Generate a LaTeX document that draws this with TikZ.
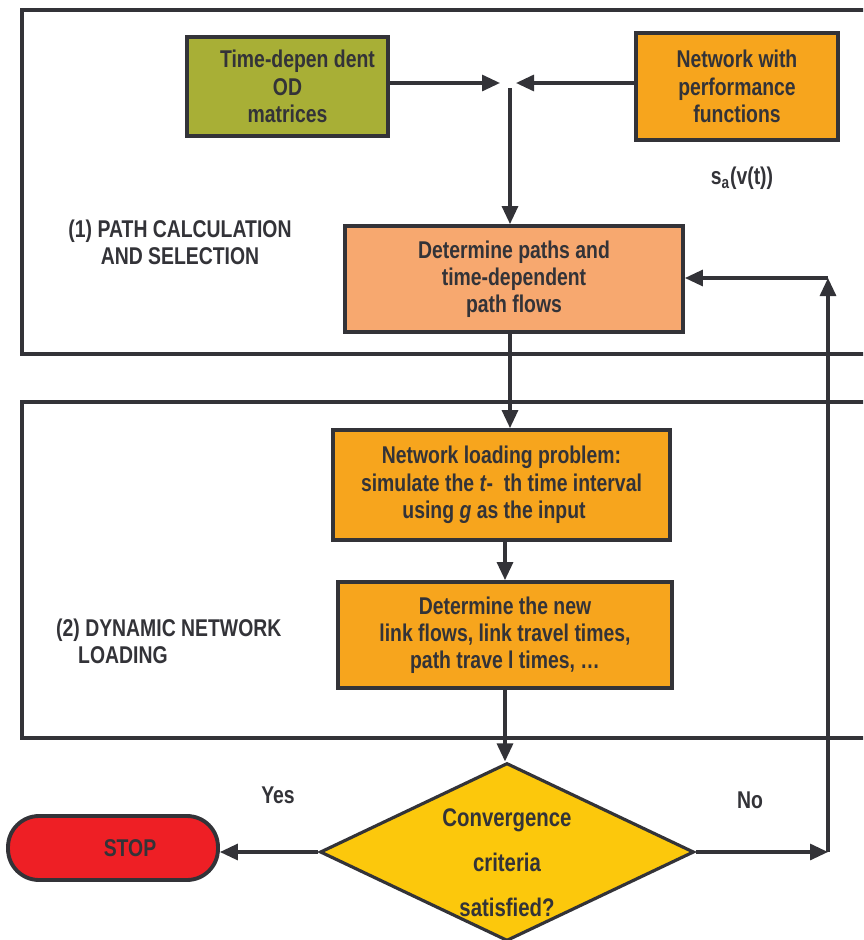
\documentclass[tikz,border=0pt]{standalone}
\usepackage{fontspec}
\setmainfont{Liberation Sans}[FakeStretch=0.8]
\usetikzlibrary{arrows.meta,shapes.geometric}
\definecolor{linec}{HTML}{333338}
\definecolor{odgreen}{HTML}{A8AF36}
\definecolor{netorange}{HTML}{F7A51D}
\definecolor{pathsalmon}{HTML}{F7A86F}
\definecolor{convyellow}{HTML}{FCC80C}
\definecolor{stopred}{HTML}{EE1F25}
\begin{document}
\begin{tikzpicture}[x=0.02cm, y=-0.02cm, color=linec, text=linec,
    font=\fontsize{13.8}{15.5}\selectfont\bfseries,
    box/.style={draw, line width=2.2pt, align=center, inner sep=0pt},
    frame/.style={line width=2.4pt},
    flow/.style={-{Triangle[length=0.36cm,width=0.32cm]}, line width=1.8pt}]
  \useasboundingbox (0,0) rectangle (863,940);
  \clip (0,0) rectangle (863,940);
  % the two stages
  \draw[frame] (22,10) rectangle (900,354);
  \draw[frame] (22,402) rectangle (900,738);
  \node[align=center] (stage1) at (180,242) {(1) PATH CALCULATION\\AND SELECTION};
  \node[align=left, anchor=west] (stage2) at (50,641) {(2) DYNAMIC NETWORK\\\hspace*{0.44cm}LOADING};
  % boxes
  \node[box, fill=odgreen, minimum width=4.02cm, minimum height=1.98cm] (od) at (287.5,86.5)
       {\hspace*{0.4cm}Time-depen dent\\OD\\matrices};
  \node[box, fill=netorange, minimum width=4.04cm, minimum height=2.14cm] (net) at (737,86.5)
       {Network with\\performance\\functions};
  \node (sa) at (742,178) {s\textsubscript{a}(v(t))};
  \node[box, fill=pathsalmon, minimum width=6.76cm, minimum height=2.12cm] (paths) at (514,279)
       {Determine paths and\\time-dependent\\path flows};
  \node[box, fill=netorange, minimum width=6.74cm, minimum height=2.2cm] (load) at (501.5,485)
       {Network loading problem:\\simulate the \textit{t}-\ \ th time interval\\using \textit{g} as the input\hspace*{0.3cm}};
  \node[box, fill=netorange, minimum width=6.68cm, minimum height=2.12cm] (links) at (505,635)
       {Determine the new\\link flows, link travel times,\\path trave l times, \dots};
  \node[draw, diamond, fill=convyellow, line width=1.8pt, inner sep=0pt,
        minimum width=7.48cm, minimum height=3.56cm] (conv) at (507,852) {};
  \node[align=center, font=\fontsize{14.5}{25.5}\selectfont\bfseries] (convtxt) at (507,863)
       {Convergence\\criteria\\satisfied?};
  \node[box, fill=stopred, rounded corners=0.62cm, minimum width=4.2cm, minimum height=1.28cm] (stop)
       at (113,848) {\hspace*{0.68cm}STOP};
  \node (yes) at (278,795) {Yes};
  \node (no) at (750,800) {No};
  % connectors
  \coordinate (joinl) at (500,83);
  \coordinate (joinr) at (516,83);
  \coordinate (merge) at (510,88);
  \coordinate (noend) at (828,852);
  \coordinate (noup) at (828,278);
  \draw[flow] (od.east |- joinl) -- (joinl);
  \draw[flow] (net.west |- joinr) -- (joinr);
  \draw[flow] (merge) -- (merge |- paths.north);
  \draw[flow] (paths.south -| merge) -- (load.north -| merge);
  \draw[flow] (load.south -| links.north) -- (links.north);
  \draw[flow] (links.south) -- (links.south |- conv.north);
  \draw[flow] (conv.west) -- (conv.west -| stop.east);
  \draw[flow] (conv.east) -- (noend);
  \draw[flow] (noend) -- (noup);
  \draw[flow] (noup) -- (noup -| paths.east);
\end{tikzpicture}
\end{document}
